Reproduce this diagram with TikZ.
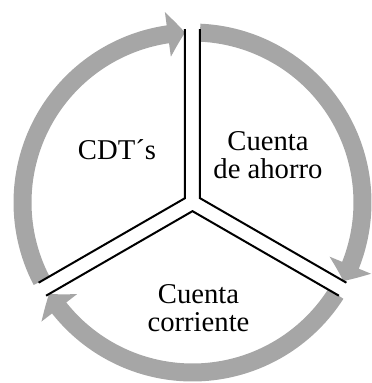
\documentclass[tikz,border=0pt]{standalone}
\usepackage{fontspec}
\setmainfont{Liberation Serif}
\usetikzlibrary{arrows.meta}
\usetikzlibrary{bending}
\definecolor{cyclegray}{RGB}{166,166,166}
\tikzset{
    labelnode/.style = {align=center, inner sep=0pt, font=\fontsize{21.5}{21.5}\selectfont, text=black},
    edgesep/.style = {-, line width=1.5pt, black, line join=miter},
    cyclearrow/.style = {-{Triangle[width=33pt,length=13pt,bend]}, line width=13.5pt, cyclegray}
}

\begin{document}
\begin{tikzpicture}[x=0.75pt, y=0.75pt]
\path[use as bounding box] (-192.5,-180.5) rectangle (179.5,202.5);
%
\draw[cyclearrow] (207.5:170) arc[start angle=207.5, end angle=92.5, radius=170];
\draw[cyclearrow] (87.5:170) arc[start angle=87.5, end angle=-27.5, radius=170];
\draw[cyclearrow] (-32.5:170) arc[start angle=-32.5, end angle=-147.5, radius=170];
%
\coordinate (oL) at (-7.5, 4.33);
\coordinate (oR) at (7.5, 4.33);
\coordinate (oB) at (0, -8.66);
\coordinate (tL) at (-7.5, 173.3);
\coordinate (tR) at (7.5, 173.3);
\coordinate (sL) at (-153.9, -80.2);
\coordinate (sR) at (153.9, -80.2);
\coordinate (bL) at (-146.4, -93.2);
\coordinate (bR) at (146.4, -93.2);
%
\draw[edgesep] (tL) -- (oL) -- (sL);
\draw[edgesep] (tR) -- (oR) -- (sR);
\draw[edgesep] (bL) -- (oB) -- (bR);
%
\node[labelnode] at (-75.5, 52.5) (cdt) {CDT´s};
\node[labelnode] at (75.5, 47.5) (ahorro) {Cuenta\\de ahorro};
\node[labelnode] at (6, -105.5) (corriente) {Cuenta\\corriente};
\end{tikzpicture}
\end{document}
